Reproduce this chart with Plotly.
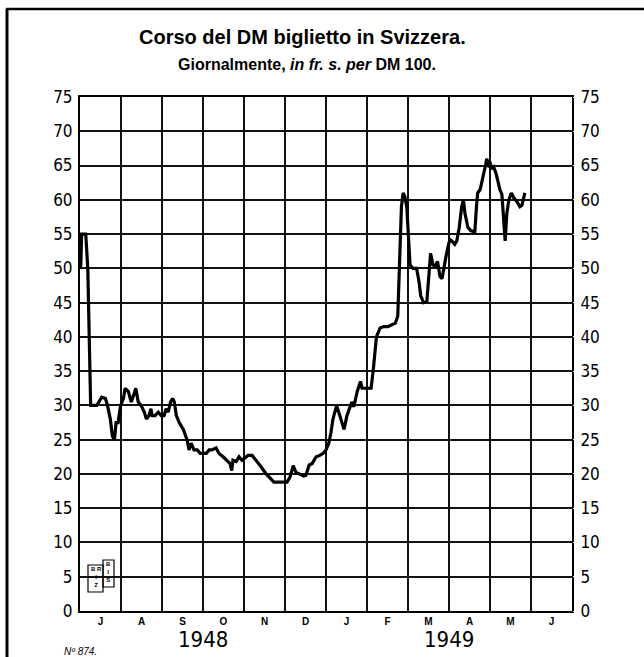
import plotly.graph_objects as go

# ---- data (months since 1 July 1948, rate in Swiss francs per DM 100) ----
MONTH_POS = [0.0, 0.02, 0.04, 0.14, 0.19, 0.23, 0.26, 0.41, 0.47, 0.53, 0.62, 0.67, 0.74, 0.79,
             0.84, 0.88, 0.93, 0.99, 1.06, 1.10, 1.18, 1.25, 1.31, 1.36, 1.42, 1.49, 1.57, 1.62,
             1.68, 1.73, 1.76, 1.83, 1.91, 1.98, 2.05, 2.10, 2.15, 2.21, 2.26, 2.30, 2.35, 2.42,
             2.52, 2.57, 2.61, 2.66, 2.71, 2.78, 2.86, 2.93, 3.00, 3.08, 3.15, 3.22, 3.32, 3.39,
             3.49, 3.59, 3.66, 3.70, 3.73, 3.81, 3.88, 3.95, 4.03, 4.10, 4.20, 4.30, 4.42, 4.54,
             4.64, 4.73, 4.88, 5.05, 5.12, 5.20, 5.27, 5.37, 5.46, 5.51, 5.59, 5.66, 5.76, 5.85,
             5.93, 6.00, 6.07, 6.12, 6.17, 6.26, 6.34, 6.44, 6.51, 6.59, 6.63, 6.68, 6.76, 6.84,
             6.88, 6.97, 7.10, 7.15, 7.23, 7.32, 7.41, 7.51, 7.61, 7.69, 7.75, 7.80, 7.84, 7.88,
             7.92, 7.97, 8.00, 8.05, 8.12, 8.21, 8.27, 8.31, 8.38, 8.46, 8.51, 8.55, 8.61, 8.66,
             8.72, 8.78, 8.83, 8.88, 8.92, 8.97, 9.02, 9.07, 9.14, 9.19, 9.25, 9.31, 9.35, 9.39,
             9.46, 9.53, 9.63, 9.67, 9.70, 9.76, 9.80, 9.85, 9.89, 9.92, 9.97, 10.01, 10.04, 10.09,
             10.14, 10.19, 10.24, 10.29, 10.34, 10.37, 10.41, 10.46, 10.52, 10.58, 10.65, 10.73,
             10.78, 10.81, 10.85]
RATE = [50.0, 50.5, 55.0, 55.0, 50.0, 40.0, 30.0, 30.0, 30.5, 31.2, 31.0, 30.0, 28.0, 25.5,
        25.0, 27.5, 27.5, 30.0, 31.0, 32.5, 32.0, 30.5, 31.5, 32.5, 30.5, 30.0, 29.0, 28.0,
        28.5, 29.5, 28.5, 28.5, 29.0, 28.5, 28.5, 29.5, 29.0, 30.5, 31.0, 30.5, 28.5, 27.5,
        26.5, 25.5, 25.0, 23.5, 24.5, 23.5, 23.5, 23.0, 23.0, 23.0, 23.5, 23.5, 23.8, 23.0,
        22.5, 22.0, 21.5, 20.5, 22.0, 21.8, 22.5, 22.0, 22.3, 22.7, 22.7, 22.0, 21.0, 20.0,
        19.3, 18.8, 18.8, 18.8, 19.5, 21.2, 20.2, 20.0, 19.7, 19.8, 21.3, 21.5, 22.5, 22.7,
        23.0, 23.5, 24.5, 26.0, 28.0, 30.0, 28.5, 26.5, 28.5, 30.0, 30.5, 29.8, 32.0, 33.5,
        32.5, 32.5, 32.5, 35.0, 40.0, 41.3, 41.5, 41.5, 41.8, 42.0, 43.0, 52.0, 59.0, 61.0,
        60.5, 59.0, 55.0, 50.5, 50.0, 50.0, 48.0, 46.0, 45.0, 45.2, 49.0, 52.2, 50.5, 50.3,
        51.0, 48.8, 48.5, 50.5, 51.5, 53.0, 54.2, 54.0, 53.5, 54.0, 56.0, 59.0, 60.0, 58.0,
        56.0, 55.5, 55.3, 59.0, 61.0, 61.5, 62.5, 63.5, 65.0, 66.0, 65.0, 65.2, 64.5, 64.8,
        64.0, 62.8, 61.5, 60.8, 57.0, 54.0, 58.0, 60.0, 61.0, 60.3, 59.8, 59.0,
        59.2, 60.0, 61.0]

MONTH_LABELS = ["J", "A", "S", "O", "N", "D", "J", "F", "M", "A", "M", "J"]
YEAR_LABELS = ["1948", "1949"]
YEAR_POS = [3, 9]
Y_TICKS = list(range(0, 80, 5))

W, H = 644, 657
L, R, T, B = 80, 72, 97, 46
PW, PH = W - L - R, H - T - B


def px(x):
    return (x - L) / PW


def py(y):
    return (H - B - y) / PH


NARROW = "Liberation Sans Narrow, DejaVu Sans Condensed, Arial Narrow, Liberation Sans, sans-serif"
SANS = "Liberation Sans, Arial, sans-serif"

fig = go.Figure()
fig.add_trace(go.Scatter(x=MONTH_POS, y=RATE, mode="lines",
                         line=dict(color="black", width=3.2), showlegend=False,
                         hoverinfo="skip"))
# invisible trace to activate the right-hand axis
fig.add_trace(go.Scatter(x=[MONTH_POS[0]], y=[RATE[0]], yaxis="y2", mode="markers",
                         marker=dict(opacity=0), showlegend=False, hoverinfo="skip"))

fig.update_layout(
    width=W, height=H,
    margin=dict(l=L, r=R, t=T, b=B),
    paper_bgcolor="white", plot_bgcolor="white",
    xaxis=dict(range=[0, 12], tickvals=[i + 0.5 for i in range(12)], ticktext=MONTH_LABELS,
               showgrid=False, zeroline=False, ticks="",
               tickfont=dict(family=SANS, size=10, color="black", weight="bold"),
               showline=True, linecolor="black", linewidth=2, mirror=True,
               minor=dict(tickvals=list(range(13)), showgrid=True, gridcolor="#111",
                          gridwidth=1.5, ticks="")),
    yaxis=dict(range=[0, 75], tickvals=Y_TICKS, showgrid=True, gridcolor="#111", gridwidth=1.5,
               zeroline=False, ticks="outside", ticklen=2, tickcolor="white",
               tickfont=dict(family=NARROW, size=17, color="black"),
               showline=True, linecolor="black", linewidth=2, mirror=True),
    yaxis2=dict(range=[0, 75], tickvals=Y_TICKS, overlaying="y", side="right",
                showgrid=False, zeroline=False, ticks="outside", ticklen=4, tickcolor="white",
                tickfont=dict(family=NARROW, size=17, color="black")),
)

ann = []
ann.append(dict(text="<b>Corso del DM biglietto in Svizzera.</b>", xref="paper", yref="paper",
                x=px(302), y=py(37), showarrow=False, xanchor="center", yanchor="middle",
                font=dict(family=SANS, size=20, color="black")))
ann.append(dict(text="<b>Giornalmente, <i>in fr. s. per</i> DM 100.</b>", xref="paper",
                yref="paper", x=px(307), y=py(64), showarrow=False, xanchor="center",
                yanchor="middle", font=dict(family=SANS, size=16, color="black")))
for lab, pos in zip(YEAR_LABELS, YEAR_POS):
    ann.append(dict(text=lab, xref="x", yref="paper", x=pos, y=py(639), showarrow=False,
                    xanchor="center", yanchor="middle",
                    font=dict(family=NARROW, size=22, color="black")))
ann.append(dict(text="<i>Nº 874.</i>", xref="paper", yref="paper", x=px(62), y=py(651),
                showarrow=False, xanchor="left", yanchor="middle",
                font=dict(family=SANS, size=10, color="black")))
# small BRI stamp
ann.append(dict(text="B R<br>I<br>Z", xref="paper", yref="paper", x=px(96), y=py(577),
                showarrow=False, xanchor="center", yanchor="middle",
                font=dict(family=SANS, size=6, color="black", weight="bold")))
ann.append(dict(text="B<br>I<br>S", xref="paper", yref="paper", x=px(108), y=py(572),
                showarrow=False, xanchor="center", yanchor="middle",
                font=dict(family=SANS, size=6, color="black", weight="bold")))
fig.update_layout(annotations=ann)

shapes = [
    # outer frame (top and left)
    dict(type="line", xref="paper", yref="paper", x0=px(6), x1=px(644), y0=py(9), y1=py(9),
         line=dict(color="black", width=2.5)),
    dict(type="line", xref="paper", yref="paper", x0=px(7), x1=px(7), y0=py(9), y1=py(657),
         line=dict(color="black", width=3)),
    # stamp boxes
    dict(type="rect", xref="paper", yref="paper", x0=px(88), x1=px(103), y0=py(592), y1=py(565),
         line=dict(color="black", width=1.2)),
    dict(type="rect", xref="paper", yref="paper", x0=px(103), x1=px(114), y0=py(587), y1=py(560),
         line=dict(color="black", width=1.2)),
]
fig.update_layout(shapes=shapes)

fig.write_html("out.html", config={"displayModeBar": False},
               post_script="document.body.style.margin='0px';")
